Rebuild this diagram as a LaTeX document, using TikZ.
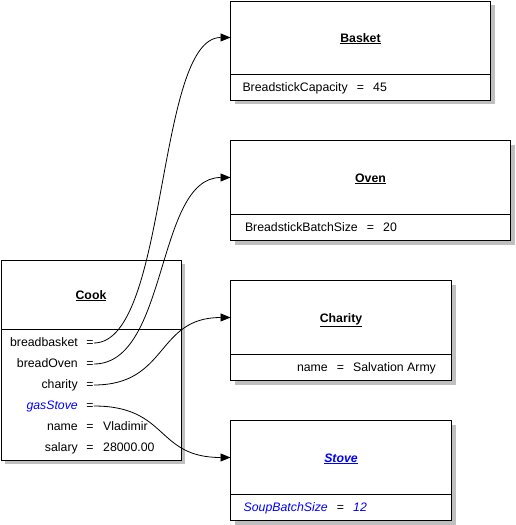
\documentclass[tikz,border=0pt]{standalone}
\usepackage{fontspec}
\setmainfont{Liberation Sans}
\usetikzlibrary{arrows.meta,shadows}
\begin{document}
\begin{tikzpicture}[x=1pt,y=-1pt,
  every node/.style={font=\fontsize{12.3}{14}\selectfont},
  cls/.style={draw, line width=1pt, fill=white, inner sep=0pt, outer sep=0pt, anchor=north west,
    text height=9pt, text depth=0pt,
    drop shadow={shadow xshift=4pt, shadow yshift=-4pt, fill=black!25, opacity=1}},
  bod/.style={draw, line width=1pt, fill=white, inner sep=0pt, outer sep=0pt, anchor=north,
    drop shadow={shadow xshift=4pt, shadow yshift=-4pt, fill=black!25, opacity=1}},
  txt/.style={inner sep=0pt, text height=9pt, text depth=2.5pt},
  lab/.style={txt, anchor=east},
  val/.style={txt, anchor=west},
  eqs/.style={txt},
  conn/.style={-{Triangle[length=10pt,width=8pt]}, line width=0.8pt},
  it/.style={text=blue, font=\fontsize{12.3}{14}\selectfont\itshape}
]
\useasboundingbox (0,0) rectangle (515,525);

% Cook
\node[cls, minimum width=180pt, minimum height=69pt] (cookH) at (1,260) {\underline{\textbf{Cook}}};
\node[bod, minimum width=180pt, minimum height=131pt] (cookB) at (cookH.south) {};
\node[lab] (l1) at (78,343) {breadbasket};
\node[eqs] (e1) at (90,343) {=};
\node[lab] (l2) at (78,364) {breadOven};
\node[eqs] (e2) at (90,364) {=};
\node[lab] (l3) at (78,385) {charity};
\node[eqs] (e3) at (90,385) {=};
\node[lab, it] (l4) at (78,406) {gasStove};
\node[eqs] (e4) at (90,406) {=};
\node[lab] (l5) at (78,427) {name};
\node[eqs] (e5) at (90,427) {=};
\node[val] (v5) at (103,427) {Vladimir};
\node[lab] (l6) at (78,448) {salary};
\node[eqs] (e6) at (90,448) {=};
\node[val] (v6) at (103,448) {28000.00};

% Basket
\node[cls, minimum width=260pt, minimum height=73pt] (basketH) at (230.5,1) {\underline{\textbf{Basket}}};
\node[bod, minimum width=260pt, minimum height=26pt] (basketB) at (basketH.south) {};
\node[lab] (bl) at (348,88) {BreadstickCapacity};
\node[eqs] (be) at (360.5,88) {=};
\node[val] (bv) at (373,88) {45};

% Oven
\node[cls, minimum width=280pt, minimum height=74pt] (ovenH) at (230.5,140.5) {\underline{\textbf{Oven}}};
\node[bod, minimum width=280pt, minimum height=26pt] (ovenB) at (ovenH.south) {};
\node[lab] (ol) at (358,228) {BreadstickBatchSize};
\node[eqs] (oe) at (370.5,228) {=};
\node[val] (ov) at (383,228) {20};

% Charity
\node[cls, minimum width=221pt, minimum height=74pt] (charH) at (230.5,280.5) {\underline{\textbf{Charity}}};
\node[bod, minimum width=221pt, minimum height=26pt] (charB) at (charH.south) {};
\node[lab] (cl) at (328,368) {name};
\node[eqs] (ce) at (340.5,368) {=};
\node[val] (cv) at (353,368) {Salvation Army};

% Stove
\node[cls, minimum width=221pt, minimum height=74pt, text=blue] (stoveH) at (230.5,420.5) {\underline{\textbf{\itshape Stove}}};
\node[bod, minimum width=221pt, minimum height=26pt] (stoveB) at (stoveH.south) {};
\node[lab, it] (sl) at (328,508) {SoupBatchSize};
\node[eqs] (se) at (340.5,508) {=};
\node[val, it] (sv) at (353,508) {12};

% connectors
\draw[conn] (e1.east) .. controls +(75,0) and +(-75,0) .. (basketH.west);
\draw[conn] (e2.east) .. controls +(75,0) and +(-75,0) .. (ovenH.west);
\draw[conn] (e3.east) .. controls +(75,0) and +(-75,0) .. (charH.west);
\draw[conn] (e4.east) .. controls +(75,0) and +(-75,0) .. (stoveH.west);
\end{tikzpicture}
\end{document}
